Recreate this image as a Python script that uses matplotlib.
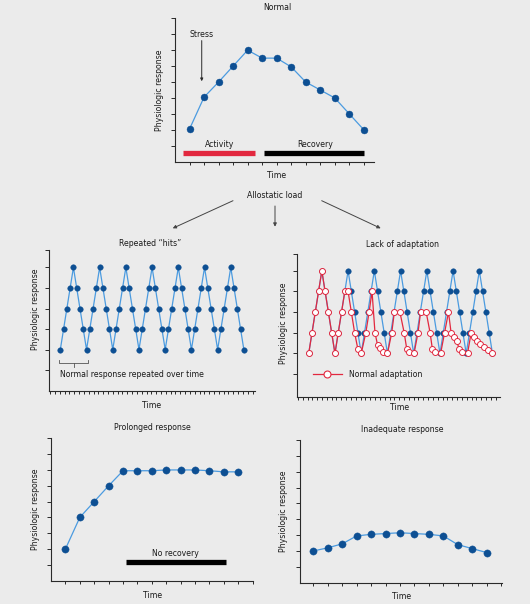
import matplotlib
matplotlib.use('Agg')
import matplotlib.pyplot as plt
import numpy as np

plt.rcParams['font.family'] = ['DejaVu Sans']
plt.rcParams['font.size'] = 5.6

BG = '#ebebeb'
DOT = '#0d4f93'
LINE = '#4b9be0'
RED = '#e2283f'
AXC = '#2a2a2a'
TXT = '#1a1a1a'

# ---- data ----
# Normal
normal_t = [1, 2, 3, 4, 5, 6, 7, 8, 9, 10, 11, 12, 13]
normal_y = [2.05, 4.05, 5, 6, 7, 6.5, 6.5, 5.95, 5, 4.5, 4, 3, 2]
activity_span = (0.57, 5.5)
recovery_span = (6.15, 13.0)

# Repeated "hits" (same series is the blue one in Lack of adaptation)
hits_y = [2, 3, 4, 5, 6, 5, 4, 3,
          2, 3, 4, 5, 6, 5, 4, 3,
          2, 3, 4, 5, 6, 5, 4, 3,
          2, 3, 4, 5, 6, 5, 4, 3,
          2, 3, 4, 5, 6, 5, 4, 3,
          2, 3, 4, 5, 6, 5, 4, 3,
          2, 3, 4, 5, 6, 5, 4, 3,
          2]
hits_t = list(range(len(hits_y)))

# Lack of adaptation: normal adaptation (red)
adapt_t = [0, 1, 2, 3, 4, 5, 6, 7, 8,
           9, 10, 11, 12, 13, 14, 15, 16,
           17.4, 18.4, 19.3, 20.2, 21.0, 21.7, 22.7, 24.0,
           25.3, 26.1, 27.8, 29.1, 29.9, 30.7, 32.1,
           33.3, 34.1, 35.8, 37.0, 37.7, 38.5, 40.2,
           41.4, 42.6, 43.4, 44.4, 45.1, 45.9, 46.6, 48.4,
           49.5, 50.5, 51.4, 52.3, 53.4, 54.5, 56]
adapt_y = [2, 3, 4, 5, 6, 5, 4, 3, 2,
           3, 4, 5, 5, 4, 3, 2.2, 2,
           3, 4, 5, 3, 2.4, 2.25, 2.05, 2,
           3, 4, 4, 3, 2.2, 2.05, 2,
           3, 4, 4, 3, 2.2, 2.05, 2,
           3, 4, 3, 2.8, 2.6, 2.2, 2.05, 2,
           3, 2.8, 2.6, 2.45, 2.3, 2.15, 2]

# Prolonged response
prolonged_t = [1, 2, 3, 4, 5, 6, 7, 8, 9, 10, 11, 12, 13]
prolonged_y = [2, 4, 5, 6, 6.95, 6.95, 6.95, 7.0, 7.0, 7.0, 6.95, 6.88, 6.88]
norecovery_span = (5.2, 12.17)

# Inadequate response
inadequate_t = [1, 2, 3, 4, 5, 6, 7, 8, 9, 10, 11, 12, 13]
inadequate_y = [2.0, 2.2, 2.45, 2.95, 3.05, 3.1, 3.15, 3.1, 3.05, 2.95, 2.4, 2.15, 1.9]

W, H = 530, 604
fig = plt.figure(figsize=(W / 100, H / 100), dpi=100, facecolor=BG)


def panel(l, t, r, b, tick_len=3):
    ax = fig.add_axes([l / W, 1 - b / H, (r - l) / W, (b - t) / H])
    ax.patch.set_visible(False)
    ax.spines['top'].set_visible(False)
    ax.spines['right'].set_visible(False)
    for s in ['left', 'bottom']:
        ax.spines[s].set_color(AXC)
        ax.spines[s].set_linewidth(0.8)
    ax.tick_params(direction='out', length=tick_len, width=0.7, color=AXC,
                   labelbottom=False, labelleft=False)
    ax.tick_params(axis='x', length=tick_len * 0.8)
    return ax


def blue_line(ax, t, y, ms):
    ax.plot(t, y, color=LINE, lw=0.9, marker='o', ms=ms,
            mfc=DOT, mec=DOT, mew=0.3, zorder=3)


# ---- Normal ----
ax = panel(175, 18.3, 374, 161.7)
blue_line(ax, normal_t, normal_y, 5.0)
ax.set_xlim(0, 13.7)
ax.set_ylim(0, 9)
ax.set_xticks(np.arange(1, 14))
ax.set_yticks(np.arange(1, 10))
ax.hlines(0.53, *activity_span, color=RED, lw=3.8)
ax.hlines(0.53, *recovery_span, color='black', lw=3.8)
ax.text(sum(activity_span) / 2 + 0.05, 1.07, 'Activity', ha='center', va='center', color=TXT)
ax.text(sum(recovery_span) / 2 + 0.08, 1.07, 'Recovery', ha='center', va='center', color=TXT)
ax.text(1.84, 8.0, 'Stress', ha='center', va='center', color=TXT)
ax.annotate('', xy=(1.84, 5.05), xytext=(1.84, 7.6),
            arrowprops=dict(arrowstyle='-|>', color=AXC, lw=0.7,
                            mutation_scale=4, shrinkA=0, shrinkB=0))

# ---- Repeated hits ----
ax = panel(49, 250, 255, 390.7, tick_len=2.5)
blue_line(ax, hits_t, hits_y, 4.0)
ax.set_xlim(-3.45, 59.4)
ax.set_ylim(0, 6.85)
ax.set_xticks(np.arange(-3.1, 59.4, 1.47))
ax.set_yticks([1, 2, 3, 4, 5, 6, 6.85])
ax.tick_params(axis='y', length=3)
ax.plot([-0.3, -0.3, 8.5, 8.5], [1.5, 1.33, 1.33, 1.5], color='#555555', lw=0.6)
ax.plot([4.1, 4.1], [1.33, 1.15], color='#555555', lw=0.6)
ax.text(-0.1, 0.8, 'Normal response repeated over time', ha='left', va='center', color=TXT)

# ---- Lack of adaptation ----
ax = panel(296.7, 254.3, 500, 397.3, tick_len=2.5)
blue_line(ax, hits_t, hits_y, 4.0)
ax.plot(adapt_t, adapt_y, color=RED, lw=0.9, marker='o', ms=4.3,
        mfc='white', mec=RED, mew=0.7, zorder=4)
ax.set_xlim(-3.66, 58.3)
ax.set_ylim(-0.12, 6.8)
ax.set_xticks(np.arange(-3.3, 58.3, 1.47))
ax.set_yticks([1, 2, 3, 4, 5, 6, 6.8])
ax.tick_params(axis='y', length=3)
ax.plot([1.3, 10.2], [1.0, 1.0], color=RED, lw=0.9)
ax.plot([5.6], [1.0], marker='o', ms=5.0, mfc='white', mec=RED, mew=0.8, ls='none')
ax.text(12.3, 1.0, 'Normal adaptation', ha='left', va='center', color=TXT)

# ---- Prolonged response ----
ax = panel(51, 438.3, 252.7, 580.7)
blue_line(ax, prolonged_t, prolonged_y, 5.2)
ax.set_xlim(0, 14)
ax.set_ylim(0, 9)
ax.set_xticks(np.arange(1, 15))
ax.set_yticks(np.arange(1, 10))
ax.hlines(1.16, *norecovery_span, color='black', lw=3.8)
ax.text(8.66, 1.75, 'No recovery', ha='center', va='center', color=TXT)

# ---- Inadequate response ----
ax = panel(300, 440, 502.3, 582.7)
blue_line(ax, inadequate_t, inadequate_y, 5.2)
ax.set_xlim(0.08, 14.08)
ax.set_ylim(0, 9)
ax.set_xticks(np.arange(1, 15))
ax.set_yticks(np.arange(1, 10))

# ---- figure-level text and arrows (pixel coordinates) ----
ov = fig.add_axes([0, 0, 1, 1])
ov.axis('off')
ov.set_xlim(0, W)
ov.set_ylim(H, 0)

titles = [('Normal', 277, 7), ('Repeated \u201chits\u201d', 150, 244),
          ('Lack of adaptation', 402.7, 244.3), ('Prolonged response', 152.7, 427.7),
          ('Inadequate response', 402.7, 429.3)]
for s, x, y in titles:
    ov.text(x, y, s, ha='center', va='center', color=TXT)

for x, y in [(277, 175), (152, 406), (400, 408), (152.7, 595), (401.7, 596.7)]:
    ov.text(x, y, 'Time', ha='center', va='center', color=TXT)

for x, y in [(160, 90), (35, 309), (284, 323), (35, 509), (284, 511)]:
    ov.text(x, y, 'Physiologic response', ha='center', va='center',
            rotation=90, color=TXT)

ov.text(275, 195, 'Allostatic load', ha='center', va='center', color=TXT)
for (x0, y0), (x1, y1) in [((233, 200.7), (172.7, 228.3)),
                           ((275, 206), (275, 226.7)),
                           ((321.7, 200.7), (380.7, 228.3))]:
    ov.annotate('', xy=(x1, y1), xytext=(x0, y0),
                arrowprops=dict(arrowstyle='-|>', color='#444444', lw=0.7,
                                mutation_scale=5, shrinkA=0, shrinkB=0))

fig.savefig('out.png', dpi=100, facecolor=BG)
